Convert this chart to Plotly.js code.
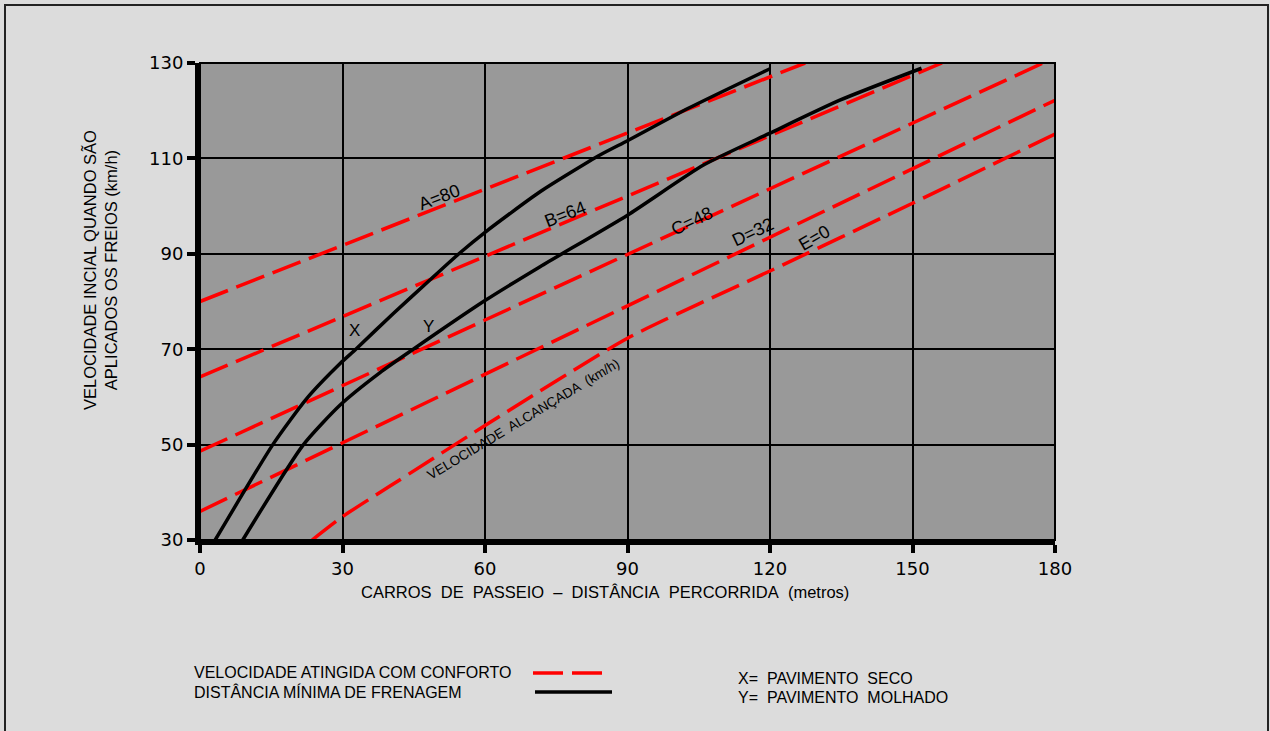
<!DOCTYPE html>
<html>
<head>
<meta charset="utf-8">
<script src="https://cdn.plot.ly/plotly-3.0.1.min.js"></script>
<style>
  html, body { margin: 0; padding: 0; background: #dcdcdc; }
  #chart { width: 1270px; height: 731px; }
</style>
</head>
<body>
<div id="chart"></div>
<script>
// ---- data ----
const xTicks = [0, 30, 60, 90, 120, 150, 180];
const yTicks = [30, 50, 70, 90, 110, 130];

// comfortable-speed lines (red dashed)
const lineA_x = [0, 127.4];   const lineA_y = [80, 130];
const lineB_x = [0, 156.2];   const lineB_y = [64.2, 130];
const lineC_x = [0, 177.5];   const lineC_y = [48.6, 130];
const lineD_x = [0, 180];     const lineD_y = [36, 122.2];
const lineE_x = [23.6, 30, 40, 60, 90, 120, 150, 180];
const lineE_y = [30, 34.9, 41.3, 54, 72.3, 86.4, 100.6, 115.1];

// minimum braking distance (black)
const curveX_x = [3.2, 15.4, 22.5, 29.5, 32.8, 40.7, 48.4, 54.5, 60, 71.6, 84.2, 90, 102.8, 120];
const curveX_y = [30, 50.1, 59.7, 67, 70, 77.5, 84.5, 90, 94.5, 103, 110.7, 113.7, 120.5, 128.8];
const curveY_x = [9, 21.7, 29.5, 37.9, 44.9, 60, 71.6, 90, 106, 120, 134.7, 151.9];
const curveY_y = [30, 49.9, 58.3, 65.1, 70, 80.2, 87.3, 98.1, 108.6, 115.3, 122.2, 128.9];

// in-plot labels
const lineLabels = ['A=80', 'B=64', 'C=48', 'D=32', 'E=0'];
const lineLabelX = [50.5, 77, 103.6, 116.4, 129.3];
const lineLabelY = [101.9, 98.3, 96.9, 94.6, 93.3];
const lineLabelAngle = [-21, -21, -25, -25, -30];

// ---- drawing ----
const RED = '#ff0000';
const DASH = '30px,9px';
const FONT = '"Liberation Sans", Arial, sans-serif';
const TICKFONT = '"DejaVu Sans", "Liberation Sans", sans-serif';
const NB = '\u00a0';

function redLine(x, y, spline) {
  return { x: x, y: y, type: 'scatter', mode: 'lines', hoverinfo: 'skip', showlegend: false,
           line: { color: RED, width: 3.5, dash: DASH, shape: spline ? 'spline' : 'linear', smoothing: 0.6 } };
}
function blackCurve(x, y) {
  return { x: x, y: y, type: 'scatter', mode: 'lines', hoverinfo: 'skip', showlegend: false,
           line: { color: '#000', width: 3.5, shape: 'spline', smoothing: 0.6 } };
}

const traces = [
  redLine(lineA_x, lineA_y), redLine(lineB_x, lineB_y), redLine(lineC_x, lineC_y),
  redLine(lineD_x, lineD_y), redLine(lineE_x, lineE_y, true),
  blackCurve(curveX_x, curveX_y), blackCurve(curveY_x, curveY_y)
];

// plot area in pixels: x 200..1055, y 63..540
const L = 200, R = 1055, T = 63, B = 540;
const px = v => (v - L) / (R - L);
const py = v => (B - v) / (B - T);

const annotations = [];
lineLabels.forEach((t, i) => {
  annotations.push({ x: lineLabelX[i], y: lineLabelY[i], xref: 'x', yref: 'y', text: t, showarrow: false,
    textangle: lineLabelAngle[i], font: { family: FONT, size: 18, color: '#000' } });
});
annotations.push(
  { x: 68, y: 55.2, xref: 'x', yref: 'y', text: 'VELOCIDADE  ALCANÇADA  (km/h)', showarrow: false,
    textangle: -31, font: { family: FONT, size: 13.5, color: '#000' } },
  { x: 32.6, y: 74, xref: 'x', yref: 'y', text: 'X', showarrow: false, font: { family: FONT, size: 17, color: '#000' } },
  { x: 48, y: 74.7, xref: 'x', yref: 'y', text: 'Y', showarrow: false, font: { family: FONT, size: 17, color: '#000' } },
  { x: px(100), y: py(270), xref: 'paper', yref: 'paper', text: 'VELOCIDADE INCIAL QUANDO SÃO<br>APLICADOS OS FREIOS (km/h)',
    showarrow: false, textangle: -90, xanchor: 'center', yanchor: 'middle', font: { family: FONT, size: 16.5, color: '#000' } },
  { x: px(605), y: py(592), xref: 'paper', yref: 'paper',
    text: ['CARROS', 'DE', 'PASSEIO', '–', 'DISTÂNCIA', 'PERCORRIDA', '(metros)'].join(NB + ' '),
    showarrow: false, xanchor: 'center', yanchor: 'middle', font: { family: FONT, size: 16.5, color: '#000' } },
  { x: px(192), y: py(673), xref: 'paper', yref: 'paper', text: 'VELOCIDADE ATINGIDA COM CONFORTO',
    showarrow: false, xanchor: 'left', yanchor: 'middle', font: { family: FONT, size: 16, color: '#000' } },
  { x: px(192), y: py(692), xref: 'paper', yref: 'paper', text: 'DISTÂNCIA MÍNIMA DE FRENAGEM',
    showarrow: false, xanchor: 'left', yanchor: 'middle', font: { family: FONT, size: 16, color: '#000' } },
  { x: px(736), y: py(679), xref: 'paper', yref: 'paper', text: 'X=' + NB + ' PAVIMENTO' + NB + ' SECO',
    showarrow: false, xanchor: 'left', yanchor: 'middle', font: { family: FONT, size: 16, color: '#000' } },
  { x: px(736), y: py(697), xref: 'paper', yref: 'paper', text: 'Y=' + NB + ' PAVIMENTO' + NB + ' MOLHADO',
    showarrow: false, xanchor: 'left', yanchor: 'middle', font: { family: FONT, size: 16, color: '#000' } }
);

const shapes = [
  // plot border
  { type: 'rect', xref: 'paper', yref: 'paper', x0: 0, x1: 1, y0: 0, y1: 1, line: { color: '#000', width: 2 } },
  // outer frame
  { type: 'rect', xref: 'paper', yref: 'paper', x0: px(5), x1: px(1268), y0: py(740), y1: py(5),
    line: { color: '#222', width: 2 } },
  // legend samples
  { type: 'line', xref: 'paper', yref: 'paper', x0: px(533), x1: px(611), y0: py(673), y1: py(673),
    line: { color: RED, width: 3.5, dash: DASH } },
  { type: 'line', xref: 'paper', yref: 'paper', x0: px(535), x1: px(612), y0: py(692), y1: py(692),
    line: { color: '#000', width: 3.5 } }
];

const layout = {
  width: 1270, height: 731,
  margin: { l: 200, r: 215, t: 63, b: 191, pad: 0 },
  paper_bgcolor: '#dcdcdc', plot_bgcolor: '#999999',
  showlegend: false,
  xaxis: {
    range: [0, 180], tickvals: xTicks, ticktext: xTicks.map(String),
    showgrid: true, gridcolor: '#000', gridwidth: 2, zeroline: false,
    showline: true, linecolor: '#000', linewidth: 5,
    ticks: 'outside', ticklen: 8, tickwidth: 4, tickcolor: '#000',
    tickfont: { family: TICKFONT, size: 18, color: '#000' }, fixedrange: true
  },
  yaxis: {
    range: [30, 130], tickvals: yTicks, ticktext: yTicks.map(String),
    showgrid: true, gridcolor: '#000', gridwidth: 2, zeroline: false,
    showline: true, linecolor: '#000', linewidth: 5,
    ticks: 'outside', ticklen: 8, tickwidth: 4, tickcolor: '#000',
    tickfont: { family: TICKFONT, size: 18, color: '#000' }, fixedrange: true
  },
  annotations: annotations,
  shapes: shapes
};

Plotly.newPlot('chart', traces, layout, { displayModeBar: false, staticPlot: true });
</script>
</body>
</html>
